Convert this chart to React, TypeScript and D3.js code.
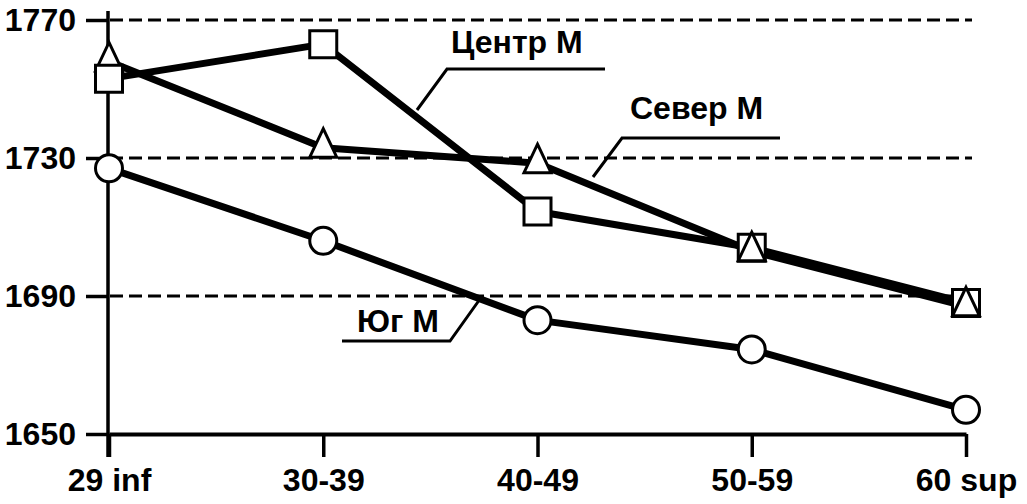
import React, { useEffect, useRef } from 'react';
import * as d3 from 'd3';

// age groups on the x axis
const categories = ['29 inf', '30-39', '40-49', '50-59', '60 sup'];
const yTicks = [1650, 1690, 1730, 1770];

// series values
const centreValues = [1753, 1763, 1714.5, 1704, 1688];
const northValues = [1758, 1733, 1728.5, 1703, 1687];
const southValues = [1727, 1706, 1683, 1674.5, 1657];

const seriesNames = ['Центр М', 'Север М', 'Юг М'];

interface Series {
  name: string;
  values: number[];
  marker: 'square' | 'triangle' | 'circle';
}

const series: Series[] = [
  { name: seriesNames[0], values: centreValues, marker: 'square' },
  { name: seriesNames[1], values: northValues, marker: 'triangle' },
  { name: seriesNames[2], values: southValues, marker: 'circle' },
];

const FONT = '"Liberation Sans", Arial, sans-serif';

function App() {
  const svgRef = useRef() as React.RefObject<SVGSVGElement>;

  useEffect(() => {
    const width = 1027;
    const height = 504;

    const svg = d3.select(svgRef.current)
      .attr('width', width)
      .attr('height', height)
      .style('background', '#fff');
    svg.selectAll('*').remove();

    const x = d3.scalePoint<string>().domain(categories).range([109, 966]);
    const y = d3.scaleLinear().domain([1650, 1770]).range([434, 20]);

    // dashed grid lines
    svg.append('g')
      .selectAll('line')
      .data(yTicks.filter(t => t > 1650))
      .join('line')
      .attr('x1', 110)
      .attr('x2', 972)
      .attr('y1', d => y(d))
      .attr('y2', d => y(d))
      .attr('stroke', '#000')
      .attr('stroke-width', 3)
      .attr('stroke-dasharray', '13 6');

    // y axis
    const yAxis = svg.append('g')
      .attr('transform', 'translate(108,0)')
      .call(d3.axisLeft(y).tickValues(yTicks).tickSize(22).tickSizeOuter(0).tickPadding(10).tickFormat(d3.format('d')));
    yAxis.select('.domain').remove();
    yAxis.selectAll('line').attr('stroke-width', 3.5);
    yAxis.selectAll('text')
      .attr('font-family', FONT)
      .attr('font-size', 32)
      .attr('font-weight', 'bold')
      .attr('fill', '#000');

    svg.append('line')
      .attr('x1', 108).attr('x2', 108)
      .attr('y1', y(1770) - 9).attr('y2', y(1650) + 23)
      .attr('stroke', '#000')
      .attr('stroke-width', 3.5);

    // x axis
    const xAxis = svg.append('g')
      .attr('transform', `translate(0,${y(1650)})`)
      .call(d3.axisBottom(x).tickSize(23).tickSizeOuter(0).tickPadding(11));
    xAxis.select('.domain')
      .attr('stroke-width', 4);
    xAxis.selectAll('line').attr('stroke-width', 3.5);
    xAxis.selectAll('text')
      .attr('font-family', FONT)
      .attr('font-size', 32)
      .attr('font-weight', 'bold')
      .attr('fill', '#000');

    // series lines
    const line = d3.line<number>()
      .x((_, i) => x(categories[i]) as number)
      .y(d => y(d));

    svg.append('g')
      .selectAll('path')
      .data(series)
      .join('path')
      .attr('fill', 'none')
      .attr('stroke', '#000')
      .attr('stroke-width', 7)
      .attr('stroke-linejoin', 'round')
      .attr('d', d => line(d.values));

    // markers: at each category the upper marker is drawn first
    const points = series.flatMap(s => s.values.map((v, i) => ({ v, i, marker: s.marker })))
      .sort((a, b) => a.i - b.i || b.v - a.v);

    const markerPath = (m: string) => {
      if (m === 'square') return 'M-13.5,-13.5H13.5V13.5H-13.5Z';
      if (m === 'triangle') return 'M0,-19L13.5,9.5H-13.5Z';
      return d3.arc()({ innerRadius: 0, outerRadius: 13.5, startAngle: 0, endAngle: 2 * Math.PI }) as string;
    };

    svg.append('g')
      .selectAll('path')
      .data(points)
      .join('path')
      .attr('transform', d => `translate(${x(categories[d.i])},${y(d.v)})`)
      .attr('d', d => markerPath(d.marker))
      .attr('fill', '#fff')
      .attr('stroke', '#000')
      .attr('stroke-width', 3)
      .attr('stroke-linejoin', 'miter');

    // series labels with leader lines
    const labels = [
      { text: seriesNames[0], tx: 451, ty: 53, path: 'M605,69H447L417,110' },
      { text: seriesNames[1], tx: 630, ty: 119, path: 'M780,138H622L593,177' },
      { text: seriesNames[2], tx: 357, ty: 332, path: 'M342,341H450L480,299' },
    ];
    const lg = svg.append('g');
    lg.selectAll('path')
      .data(labels)
      .join('path')
      .attr('d', d => d.path)
      .attr('fill', 'none')
      .attr('stroke', '#000')
      .attr('stroke-width', 3);
    lg.selectAll('text')
      .data(labels)
      .join('text')
      .attr('x', d => d.tx)
      .attr('y', d => d.ty)
      .attr('font-family', FONT)
      .attr('font-size', 32)
      .attr('font-weight', 'bold')
      .attr('fill', '#000')
      .text(d => d.text);
  }, []);

  return (
    <div>
      <svg ref={svgRef} style={{ position: 'absolute', left: 0, top: 0 }}></svg>
    </div>
  );
}

export default App;
